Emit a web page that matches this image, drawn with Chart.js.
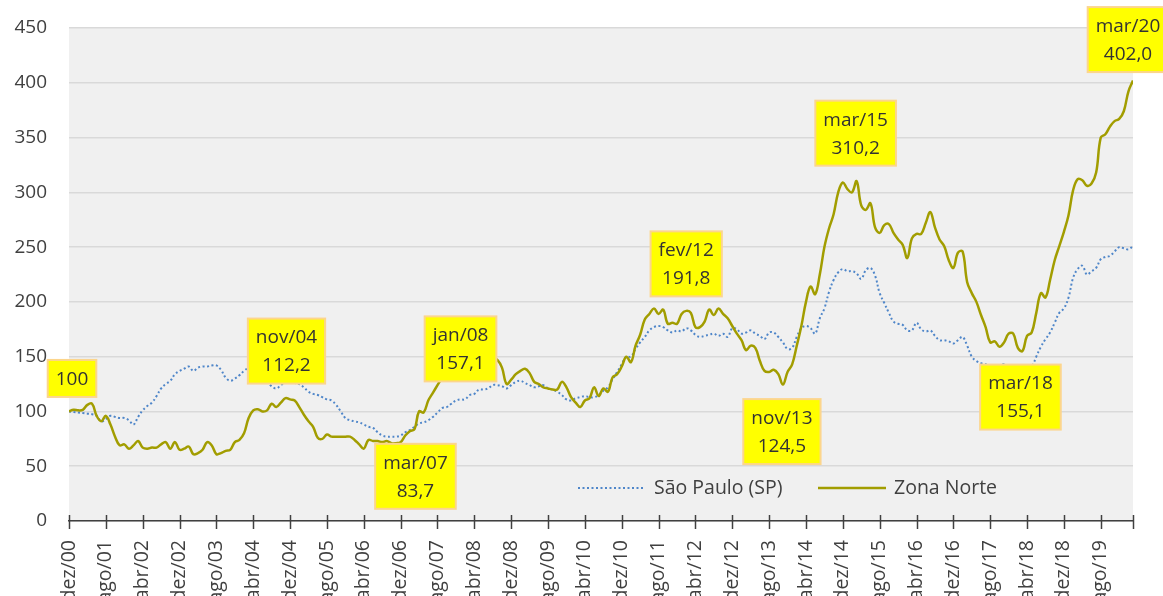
<!DOCTYPE html>
<html>
<head>
<meta charset="utf-8">
<script src="https://cdn.jsdelivr.net/npm/chart.js@4.4.1/dist/chart.umd.min.js"></script>
<style>
html,body{margin:0;padding:0;background:#fff;overflow:hidden;}
canvas{display:block;}
</style>
</head>
<body>
<canvas id="c" width="1163" height="596"></canvas>
<script>
// Tick labels every 8 months, starting dez/00 (month index 0)
const tickLabels = ['dez/00','ago/01','abr/02','dez/02','ago/03','abr/04','dez/04','ago/05','abr/06','dez/06','ago/07','abr/08','dez/08','ago/09','abr/10','dez/10','ago/11','abr/12','dez/12','ago/13','abr/14','dez/14','ago/15','abr/16','dez/16','ago/17','abr/18','dez/18','ago/19'];
const seriesNames = ['São Paulo (SP)', 'Zona Norte'];

// Monthly index, dez/00 = 100 ... mar/20 (232 months)
const saoPaulo = [
100,99.5,99,98.5,98,97.5,96,91,93,96,95,94,94,92,88,95,101,105,108,114,
121,125,128,134,137,139,141,137,140,141,141,142,142,138,131,128,130,133,137,140,
142,141,135,128,123,121,124,127,127,126,125,122,118,116,115,113,111,110,106,100,
94,92,91,90,88,86,85,81,78,77,77,77,78,81,83,86,89,90,92,95,
99,103,104,107,110,111,111,115,116,120,120,121,124,124,123,121,124,127,128,126,
124,122,123,124,121,120,118,115,111,110,112,113,114,113,113,115,119,122,129,136,
143,150,150,157,163,168,174,177,178,177,174,172,174,173,176,174,170,168,169,170,
171,169,171,168,176,175,171,172,174,171,169,166,172,172,168,163,157,158,168,176,
178,176,171,185,194,209,220,227,230,228,228,226,221,229,231,224,208,199,190,182,
180,179,174,174,181,175,173,174,169,165,165,164,162,165,168,160,150,146,144,143,
142,141,142,143,141,140,139,139,140,141,150,159,166,172,181,190,194,204,222,230,
233,225,228,231,239,241,242,246,250,249,248,251
];
const zonaNorte = [
100,101.5,101,101.5,106,107,96,91,96,88,77,69,70,66,69,73,67,66,67,67,
70,72,66,72,65,66,68,61,62,65,72,69,61,62,64,65,72,74,80,94,
101,102,100,101,107,104,108,112.2,111,110,104,97,91,86,76,75,79,77,77,77,
77,77,74,70,66,74,73,73,72,73,71,71,72,78,82,83.7,100,99,110,117,
124,131,138,146,153,157.1,155,152,150,151,153,151,149,147,140,125,129,134,137,139,
135,127,125,122,121,120,120,127,122,113,108,104,110,112,122,114,121,118,131,134,
141,150,145,160,170,184,189,194,189,193,180,181,180,189,191.8,190,177,177,182,193,
188,194,189,185,178,171,165,156,160,158,146,137,136,138,134,124.5,136,143,160,178,
200,214,207,225,250,267,280,300,309,303,300,310.2,288,284,290,268,263,270,271,263,
257,252,240,258,262,262,272,282,268,257,251,238,231,245,246,218,208,200,188,177,
163,164,159,163,171,171,158,155.1,169,172,190,208,204,220,238,251,264,279,302,312,
311,306,308,318,350,353,360,365,367,374,392,402
];

// Callout labels (month index, lines)
const calloutIdx = [0, 47, 75, 85, 134, 155, 171, 207, 231];
const calloutText = [['100'],['nov/04','112,2'],['mar/07','83,7'],['jan/08','157,1'],['fev/12','191,8'],['nov/13','124,5'],['mar/15','310,2'],['mar/18','155,1'],['mar/20','402,0']];
const calloutOffset = [[3,-33],[1,-47],[1,47],[0,0],[0,-47],[-1,47],[-1,-48],[-2,46],[-5,-41]];

const FONT = '"Open Sans", "Noto Sans", sans-serif';
const TXT = '#404040';
const spColor = '#4f86c9';
const znColor = '#a29d00';

const xTickVals = tickLabels.map((_, k) => k * 8).concat([saoPaulo.length - 1]);

const bgPlugin = {
  id: 'bg',
  beforeDraw(chart) {
    const {ctx, chartArea: a} = chart;
    ctx.save();
    ctx.fillStyle = '#f0f0f0';
    ctx.fillRect(a.left, a.top, a.right - a.left, a.bottom - a.top);
    ctx.restore();
  },
  afterDraw(chart) {
    const {ctx, chartArea: a} = chart;
    const xs = chart.scales.x;
    ctx.save();
    ctx.strokeStyle = TXT;
    ctx.lineWidth = 1.5;
    xTickVals.forEach(v => {
      const px = Math.round(xs.getPixelForValue(v)) + 0.5;
      ctx.beginPath();
      ctx.moveTo(px, a.bottom - 6);
      ctx.lineTo(px, a.bottom + 8);
      ctx.stroke();
    });
    ctx.restore();
  }
};

const legendPlugin = {
  id: 'customLegend',
  afterDatasetsDraw(chart) {
    const {ctx} = chart;
    const y = 488;
    ctx.save();
    ctx.font = '19.5px ' + FONT;
    ctx.fillStyle = TXT;
    ctx.textBaseline = 'middle';
    ctx.strokeStyle = spColor; ctx.lineWidth = 2; ctx.setLineDash([2, 2.5]);
    ctx.beginPath(); ctx.moveTo(578, y); ctx.lineTo(645, y); ctx.stroke();
    ctx.setLineDash([]);
    ctx.fillText(seriesNames[0], 654, y);
    ctx.strokeStyle = znColor; ctx.lineWidth = 2.5;
    ctx.beginPath(); ctx.moveTo(818, y); ctx.lineTo(886, y); ctx.stroke();
    ctx.fillText(seriesNames[1], 894, y);
    ctx.restore();
  }
};

const calloutPlugin = {
  id: 'callouts',
  afterDatasetsDraw(chart) {
    const {ctx} = chart;
    const xs = chart.scales.x, ys = chart.scales.y;
    ctx.save();
    ctx.font = '19px ' + FONT;
    ctx.textAlign = 'center';
    ctx.textBaseline = 'middle';
    calloutIdx.forEach((idx, k) => {
      const lines = calloutText[k];
      const px = xs.getPixelForValue(idx) + calloutOffset[k][0];
      const py = ys.getPixelForValue(zonaNorte[idx]) + calloutOffset[k][1];
      const w = Math.max(...lines.map(l => ctx.measureText(l).width)) + 16;
      const lh = 28;
      const h = lines.length === 1 ? 37 : 65;
      ctx.fillStyle = '#ffff00';
      ctx.fillRect(px - w / 2, py - h / 2, w, h);
      ctx.strokeStyle = '#fcd58c';
      ctx.lineWidth = 2;
      ctx.strokeRect(px - w / 2, py - h / 2, w, h);
      ctx.fillStyle = '#333333';
      lines.forEach((l, j) => {
        const ly = py + (j - (lines.length - 1) / 2) * lh + 1;
        ctx.fillText(l, px, ly);
      });
    });
    ctx.restore();
  }
};

new Chart(document.getElementById('c'), {
  type: 'line',
  data: {
    datasets: [
      {
        label: seriesNames[1],
        data: zonaNorte.map((v, i) => ({x: i, y: v})),
        borderColor: znColor,
        borderWidth: 2.5,
        pointRadius: 0,
        tension: 0.4,
        fill: false,
        order: 0
      },
      {
        label: seriesNames[0],
        data: saoPaulo.map((v, i) => ({x: i, y: v})),
        borderColor: spColor,
        borderWidth: 2,
        borderDash: [2, 2.5],
        pointRadius: 0,
        tension: 0.4,
        fill: false,
        order: 1
      }
    ]
  },
  options: {
    responsive: false,
    animation: false,
    devicePixelRatio: 1,
    layout: {padding: {top: 28, right: 30, left: 0, bottom: 0}},
    plugins: {legend: {display: false}, tooltip: {enabled: false}},
    scales: {
      x: {
        type: 'linear',
        min: 0,
        max: saoPaulo.length - 1,
        afterBuildTicks: s => { s.ticks = xTickVals.map(v => ({value: v})); },
        afterFit: s => { s.height = 75; s.paddingLeft = 0; s.paddingRight = 0; },
        grid: {display: false},
        border: {display: true, color: TXT, width: 1.5},
        ticks: {
          autoSkip: false,
          minRotation: 90,
          maxRotation: 90,
          padding: 11,
          color: TXT,
          font: {family: FONT, size: 19.5},
          callback: v => (v % 8 === 0 && v / 8 < tickLabels.length) ? tickLabels[v / 8] : ''
        }
      },
      y: {
        min: 0,
        max: 450,
        afterFit: s => { s.width = 69; s.paddingTop = 0; s.paddingBottom = 0; },
        grid: {color: '#d9d9d9', lineWidth: 1.5, drawTicks: false},
        border: {display: false},
        ticks: {
          stepSize: 50,
          padding: 22,
          color: TXT,
          font: {family: FONT, size: 19}
        }
      }
    }
  },
  plugins: [bgPlugin, legendPlugin, calloutPlugin]
});
</script>
</body>
</html>
